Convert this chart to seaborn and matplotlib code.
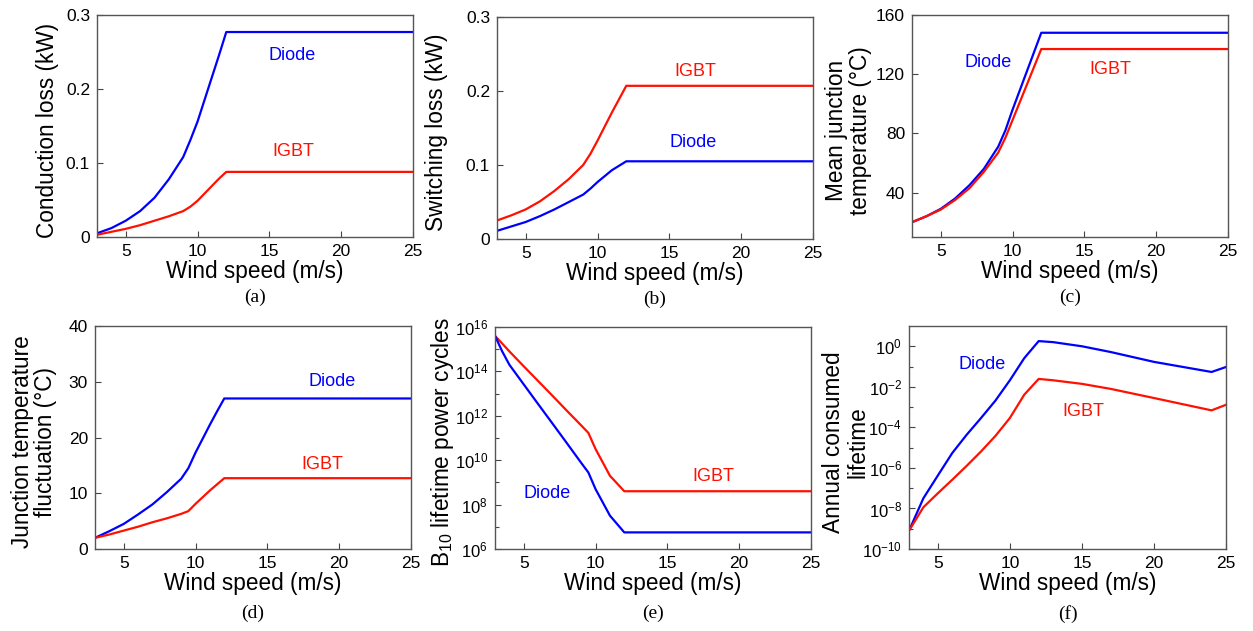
import numpy as np
import pandas as pd
import matplotlib
matplotlib.use("Agg")
import matplotlib.pyplot as plt
import seaborn as sns
from matplotlib.ticker import LogFormatterSciNotation, FixedLocator, NullFormatter

sns.set_style("ticks")
plt.rcParams['font.family'] = ['Liberation Sans', 'DejaVu Sans']
plt.rcParams['mathtext.fontset'] = 'custom'
plt.rcParams['mathtext.rm'] = 'Liberation Sans'
plt.rcParams['mathtext.it'] = 'Liberation Sans'
plt.rcParams['mathtext.default'] = 'regular'
plt.rcParams['axes.unicode_minus'] = False
plt.rcParams['text.color'] = 'black'
plt.rcParams['axes.labelcolor'] = 'black'

# ---------------- data ----------------
wind = [3, 4, 5, 6, 7, 8, 9, 9.5, 10, 10.5, 11, 11.5, 12, 25]

cond_diode = [0.005, 0.012, 0.022, 0.035, 0.053, 0.078, 0.108, 0.131, 0.156, 0.186, 0.216, 0.246, 0.277, 0.277]
cond_igbt = [0.003, 0.007, 0.011, 0.016, 0.022, 0.028, 0.035, 0.041, 0.049, 0.059, 0.069, 0.079, 0.088, 0.088]

sw_igbt = [0.025, 0.032, 0.040, 0.051, 0.065, 0.081, 0.100, 0.115, 0.133, 0.152, 0.171, 0.189, 0.207, 0.207]
sw_diode = [0.011, 0.017, 0.023, 0.031, 0.040, 0.050, 0.060, 0.068, 0.077, 0.085, 0.093, 0.099, 0.105, 0.105]

tm_diode = [20, 24, 29, 36, 45, 56, 71, 82, 96, 109, 122, 135, 148, 148]
tm_igbt = [20, 24, 28.5, 35, 43, 54, 67, 77, 89, 101, 113, 125, 137, 137]

dt_diode = [2.0, 3.2, 4.5, 6.2, 8.0, 10.2, 12.6, 14.5, 17.3, 19.8, 22.3, 24.7, 27.0, 27.0]
dt_igbt = [2.0, 2.6, 3.3, 4.0, 4.8, 5.5, 6.3, 6.8, 8.1, 9.3, 10.5, 11.6, 12.7, 12.7]

wind_e = [3, 3.5, 4, 5, 6, 7, 8, 9, 9.5, 10, 11, 12, 25]
b10_diode = [4e15, 8e14, 2e14, 2.6e13, 3.4e12, 4.5e11, 5.9e10, 7.6e9, 2.8e9, 5e8, 3.2e7, 5.6e6, 5.6e6]
b10_igbt = [4e15, 1.8e15, 8e14, 1.7e14, 3.7e13, 8e12, 1.7e12, 3.7e11, 1.7e11, 3.2e10, 2e9, 4e8, 4e8]

wind_f = [3, 4, 5, 6, 7, 8, 9, 10, 11, 12, 13, 15, 17, 20, 24, 25]
acl_diode = [8e-10, 3.2e-8, 4.2e-7, 5.4e-6, 4.3e-5, 2.9e-4, 2.1e-3, 2.1e-2, 0.26, 1.8, 1.6, 1.0, 0.52, 0.17, 0.054, 0.095]
acl_igbt = [8e-10, 1.15e-8, 5.6e-8, 2.6e-7, 1.26e-6, 6.5e-6, 3.8e-5, 2.9e-4, 4.1e-3, 2.45e-2, 2.1e-2, 1.4e-2, 7.9e-3, 2.8e-3, 6.9e-4, 1.3e-3]

BLUE = '#0000ff'
RED = '#ff1000'
ANN = 13

W, H = 1253, 631
fig = plt.figure(figsize=(W / 100, H / 100), dpi=100)


def make_ax(left, right, top, bottom):
    return fig.add_axes([left / W, (H - bottom) / H, (right - left) / W, (bottom - top) / H])


def style(ax, ylabel, panel, panel_y, label_x, tick_size=12.5):
    ax.set_xlim(3, 25)
    ax.set_xticks([5, 10, 15, 20, 25])
    ax.tick_params(direction='in', labelsize=tick_size, length=4, width=0.8, color='#444444',
                   labelcolor='black', pad=5)
    ax.tick_params(axis='x', labelsize=12.5)
    ax.tick_params(which='minor', direction='in', length=3, width=0.8, color='#444444')
    for s in ax.spines.values():
        s.set_color('#555555')
        s.set_linewidth(1.0)
    ax.set_xlabel('Wind speed (m/s)', fontsize=16.3, labelpad=1)
    ax.set_ylabel(ylabel, fontsize=16.3, linespacing=1.05, va='center')
    ax.yaxis.set_label_coords(label_x, 0.48)
    ax.text(0.5, panel_y, panel, transform=ax.transAxes, ha='center', va='center',
            fontsize=14, family='Liberation Serif')


def draw(ax, x, a, b, ca, cb):
    df = pd.DataFrame({'x': list(x) * 2, 'y': list(a) + list(b),
                       's': ['A'] * len(x) + ['B'] * len(x)})
    sns.lineplot(data=df, x='x', y='y', hue='s', palette={'A': ca, 'B': cb},
                 linewidth=1.6, ax=ax, legend=False)


# (a)
ax = make_ax(97, 413, 15, 237)
draw(ax, wind, cond_diode, cond_igbt, BLUE, RED)
ax.set_ylim(0, 0.3)
ax.set_yticks([0, 0.1, 0.2, 0.3])
ax.set_yticklabels(['0', '0.1', '0.2', '0.3'])
ax.text(16.6, 0.245, 'Diode', color=BLUE, fontsize=ANN, ha='center', va='center')
ax.text(16.65, 0.115, 'IGBT', color=RED, fontsize=ANN, ha='center', va='center')
style(ax, 'Conduction loss (kW)', '(a)', -0.27, -0.158)

# (b)
ax = make_ax(497, 813, 17, 239)
draw(ax, wind, sw_igbt, sw_diode, RED, BLUE)
ax.set_ylim(0, 0.3)
ax.set_yticks([0, 0.1, 0.2, 0.3])
ax.set_yticklabels(['0', '0.1', '0.2', '0.3'])
ax.text(16.8, 0.227, 'IGBT', color=RED, fontsize=ANN, ha='center', va='center')
ax.text(16.65, 0.131, 'Diode', color=BLUE, fontsize=ANN, ha='center', va='center')
style(ax, 'Switching loss (kW)', '(b)', -0.27, -0.19)

# (c)
ax = make_ax(912, 1228, 15, 237)
draw(ax, wind, tm_diode, tm_igbt, BLUE, RED)
ax.set_ylim(10, 160)
ax.set_yticks([40, 80, 120, 160])
ax.text(8.3, 128, 'Diode', color=BLUE, fontsize=ANN, ha='center', va='center')
ax.text(16.8, 123, 'IGBT', color=RED, fontsize=ANN, ha='center', va='center')
style(ax, 'Mean junction\ntemperature (°C)', '(c)', -0.27, -0.2)

# (d)
ax = make_ax(95, 411, 326, 549)
draw(ax, wind, dt_diode, dt_igbt, BLUE, RED)
ax.set_ylim(0, 40)
ax.set_yticks([0, 10, 20, 30, 40])
ax.text(19.5, 30, 'Diode', color=BLUE, fontsize=ANN, ha='center', va='center')
ax.text(18.8, 15.2, 'IGBT', color=RED, fontsize=ANN, ha='center', va='center')
style(ax, 'Junction temperature\nfluctuation (°C)', '(d)', -0.29, -0.193)

# (e)
ax = make_ax(495, 811, 327, 549)
draw(ax, wind_e, b10_igbt, b10_diode, RED, BLUE)
ax.set_yscale('log')
ax.set_ylim(1e6, 1e16)
ax.yaxis.set_major_locator(FixedLocator([1e6, 1e8, 1e10, 1e12, 1e14, 1e16]))
ax.yaxis.set_minor_locator(FixedLocator([1e7, 1e9, 1e11, 1e13, 1e15]))
ax.yaxis.set_major_formatter(LogFormatterSciNotation())
ax.yaxis.set_minor_formatter(NullFormatter())
ax.text(18.2, 10 ** 9.26, 'IGBT', color=RED, fontsize=ANN, ha='center', va='center')
ax.text(6.6, 10 ** 8.49, 'Diode', color=BLUE, fontsize=ANN, ha='center', va='center')
style(ax, 'B$_{10}$ lifetime power cycles', '(e)', -0.29, -0.165, tick_size=12)

# (f)
ax = make_ax(909, 1226, 326, 549)
draw(ax, wind_f, acl_diode, acl_igbt, BLUE, RED)
ax.set_yscale('log')
ax.set_ylim(1e-10, 1e1)
ax.yaxis.set_major_locator(FixedLocator([1e-10, 1e-8, 1e-6, 1e-4, 1e-2, 1e0]))
ax.yaxis.set_minor_locator(FixedLocator([1e-9, 1e-7, 1e-5, 1e-3, 1e-1]))
ax.yaxis.set_major_formatter(LogFormatterSciNotation())
ax.yaxis.set_minor_formatter(NullFormatter())
ax.text(8.1, 10 ** -0.91, 'Diode', color=BLUE, fontsize=ANN, ha='center', va='center')
ax.text(15.1, 10 ** -3.21, 'IGBT', color=RED, fontsize=ANN, ha='center', va='center')
style(ax, 'Annual consumed\nlifetime', '(f)', -0.29, -0.2, tick_size=12)

fig.savefig('out.png', dpi=100, facecolor='white')
